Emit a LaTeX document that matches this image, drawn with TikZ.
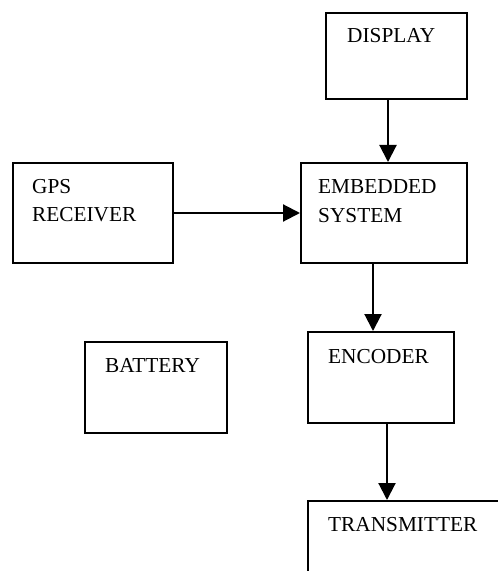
\documentclass[tikz,border=0pt]{standalone}
\usepackage{fontspec}
\setmainfont{Liberation Serif}
\usetikzlibrary{arrows.meta}
\tikzset{blk/.style={draw, line width=1.6bp, inner sep=0pt, anchor=north west},
  lbl/.style={anchor=base west, inner sep=0pt, font=\fontsize{21.3bp}{28bp}\selectfont},
  arr/.style={line width=2.1bp, -{Triangle[length=17bp, width=17bp]}}}

\begin{document}
\begin{tikzpicture}[x=1bp, y=-1bp]
\useasboundingbox (0,0) rectangle (498,571);
\clip (0,0) rectangle (498,571);
\node[blk, minimum width=141bp, minimum height=86bp] (disp) at (325,12) {};
\node[blk, minimum width=166bp, minimum height=100bp] (emb) at (300,162) {};
\node[blk, minimum width=160bp, minimum height=100bp] (gps) at (12,162) {};
\node[blk, minimum width=142bp, minimum height=91bp] (bat) at (84,341) {};
\node[blk, minimum width=146bp, minimum height=91bp] (enc) at (307,331) {};
\node[blk, minimum width=240bp, minimum height=120bp] (trans) at (307,500) {};
\node[lbl] (disptxt) at (347,43) {DISPLAY};
\node[lbl] (embtxt) at (318,193) {EMBEDDED};
\node[lbl] (embtxtb) at (318,222) {SYSTEM};
\node[lbl] (gpstxt) at (32,193) {GPS};
\node[lbl] (gpstxtb) at (32,221) {RECEIVER};
\node[lbl] (battxt) at (105,372) {BATTERY};
\node[lbl] (enctxt) at (328,363) {ENCODER};
\node[lbl] (transtxt) at (328,531) {TRANSMITTER};
\draw[arr] (disp.south -| 388,0) -- (emb.north -| 388,0);
\draw[arr] (gps.east |- 0,213) -- (emb.west |- 0,213);
\draw[arr] (emb.south -| 373,0) -- (enc.north -| 373,0);
\draw[arr] (enc.south -| 387,0) -- (trans.north -| 387,0);
\end{tikzpicture}
\end{document}
